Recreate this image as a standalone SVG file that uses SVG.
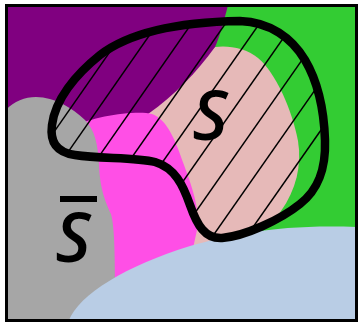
<svg xmlns="http://www.w3.org/2000/svg" width="358" height="323" viewBox="0 0 358 323">
<defs>
<clipPath id="inS"><path d="M 240 21 C 270 22 292 38 305 60 C 318 82 324 110 325 140 C 326 170 318 190 300 204 C 280 220 245 236 222 238 C 205 239 197 225 190 205 C 183 185 175 168 155 162 C 135 157 100 159 75 155 C 55 152 50 140 52 125 C 55 100 75 75 100 55 C 130 32 180 22 240 21 Z"/></clipPath>
<clipPath id="frame"><rect x="6" y="5" width="351" height="316"/></clipPath>
</defs>
<style>
.hatch{stroke:#000;stroke-width:1.5;fill:none}
.lbl{font-family:"Open Sans","DejaVu Sans",sans-serif;font-style:italic;font-weight:600;font-size:68px;fill:#000}
</style>
<rect x="0" y="0" width="358" height="323" fill="#ffffff"/>
<g id="regions" clip-path="url(#frame)">
<rect id="green" x="6" y="5" width="352" height="318" fill="#33CC33"/>
<path id="pink" d="M 215 47 C 228 45 246 48 258 58 C 276 73 292 110 298 141 C 302 165 296 190 281 211 C 268 228 250 240 230 245 L 170 255 L 130 118 Z" fill="#E6B9B8"/>
<path id="purple" d="M 6 5 L 228 5 C 223 25 219 38 215 47 C 197 72 175 95 148 114 L 6 132 Z" fill="#800080"/>
<path id="magenta" d="M 75 126 C 92 117 135 110 152 114 C 168 120 176 142 184 165 C 192 187 200 208 197 230 L 190 262 L 100 290 L 75 200 Z" fill="#FF4FE6"/>
<path id="gray" d="M 6 110 C 14 101 25 97 36 97 C 55 97 72 108 85 120 C 95 130 98 145 99 165 C 100 190 106 203 111 214 C 114 225 115 245 115 290 L 115 323 L 6 323 Z" fill="#A6A6A6"/>
<path id="blue" d="M 68 323 C 76 296 125 266 190 246 C 232 234 280 224 358 227 L 358 323 Z" fill="#B9CDE5"/>
</g>
<g id="hatching" clip-path="url(#inS)">
<line class="hatch" x1="146" y1="0" x2="-84" y2="330"/>
<line class="hatch" x1="174" y1="0" x2="-56" y2="330"/>
<line class="hatch" x1="208" y1="0" x2="-22" y2="330"/>
<line class="hatch" x1="242" y1="0" x2="11" y2="330"/>
<line class="hatch" x1="276" y1="0" x2="45" y2="330"/>
<line class="hatch" x1="310" y1="0" x2="79" y2="330"/>
<line class="hatch" x1="344" y1="0" x2="113" y2="330"/>
<line class="hatch" x1="378" y1="0" x2="147" y2="330"/>
<line class="hatch" x1="412" y1="0" x2="181" y2="330"/>
</g>
<g id="setS">
<path d="M 240 21 C 270 22 292 38 305 60 C 318 82 324 110 325 140 C 326 170 318 190 300 204 C 280 220 245 236 222 238 C 205 239 197 225 190 205 C 183 185 175 168 155 162 C 135 157 100 159 75 155 C 55 152 50 140 52 125 C 55 100 75 75 100 55 C 130 32 180 22 240 21 Z" fill="none" stroke="#000" stroke-width="8.5"/>
</g>
<g id="labels">
<text class="lbl" x="210" y="140" text-anchor="middle">S</text>
<text class="lbl" x="73" y="262" text-anchor="middle">S</text>
<rect x="60" y="196" width="37" height="6" fill="#000"/>
</g>
<rect id="border" x="6.5" y="5.5" width="350" height="315" fill="none" stroke="#000" stroke-width="3"/>
</svg>
